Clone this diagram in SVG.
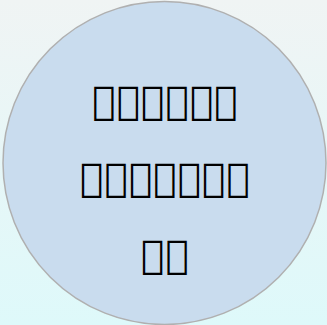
<svg xmlns="http://www.w3.org/2000/svg" width="327" height="325" viewBox="0 0 327 325">
<defs>
<linearGradient id="bg" x1="0" y1="0" x2="0" y2="1">
<stop offset="0" stop-color="#f0f4f4"/>
<stop offset="1" stop-color="#def9fa"/>
</linearGradient>
<style>
.lbl{font-family:"DejaVu Sans",sans-serif;font-size:39px;letter-spacing:1px;fill:#000;text-anchor:middle}
</style>
</defs>
<rect width="327" height="325" fill="url(#bg)"/>
<g id="node1">
<circle cx="164.5" cy="163" r="161.5" fill="#c9dcee" stroke="#b0b0b0" stroke-width="1.5"/>
<text class="lbl" x="165.5" y="114">&#xE000;&#xE001;&#xE002;&#xE003;&#xE004;&#xE005;</text>
<text class="lbl" x="165.5" y="191">&#xE006;&#xE007;&#xE008;&#xE009;&#xE00A;&#xE00B;&#xE00C;</text>
<text class="lbl" x="165.5" y="268">&#xE00D;&#xE00E;</text>
</g>
<g id="connectors"/>
</svg>
